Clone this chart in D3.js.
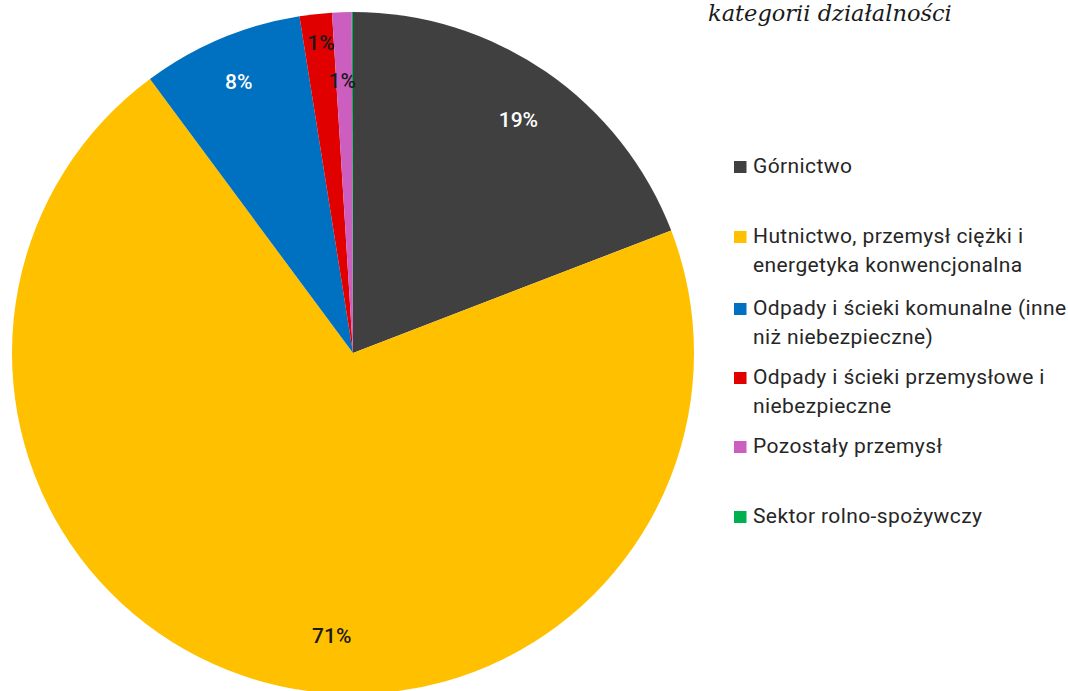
<!DOCTYPE html>
<html><head><meta charset="utf-8">
<script src="https://cdn.jsdelivr.net/npm/d3@7"></script>
<style>
html,body{margin:0;padding:0;background:#fff;}
svg{display:block;}
</style></head>
<body>
<svg id="chart" width="1068" height="691"></svg>
<script>
// Data (percent shares)
const categories = [
  "Górnictwo",
  "Hutnictwo, przemysł ciężki i energetyka konwencjonalna",
  "Odpady i ścieki komunalne (inne niż niebezpieczne)",
  "Odpady i ścieki przemysłowe i niebezpieczne",
  "Pozostały przemysł",
  "Sektor rolno-spożywczy"
];
const values = [19.15, 70.7, 7.64, 1.53, 0.92, 0.06];
const valueLabels = ["19%", "71%", "8%", "1%", "1%", ""];
const legendLines = [
  ["Górnictwo"],
  ["Hutnictwo, przemysł ciężki i", "energetyka konwencjonalna"],
  ["Odpady i ścieki komunalne (inne", "niż niebezpieczne)"],
  ["Odpady i ścieki przemysłowe i", "niebezpieczne"],
  ["Pozostały przemysł"],
  ["Sektor rolno-spożywczy"]
];
const titleText = "kategorii działalności";

// Styles / layout
const colors = ["#404040", "#FFC000", "#0070C0", "#E00000", "#CC5EC0", "#00B050"];
const labelColors = ["#ffffff", "#1a1a1a", "#ffffff", "#1a1a1a", "#1a1a1a", "#1a1a1a"];
// label placement: radius fraction, angle offset (deg) from slice middle
const labelLayout = [[0.84, 0.8], [0.83, -11.9], [0.865, 0], [0.915, 0.4], [0.80, -0.4], [0.8, 0]];
const legendBaselines = [173, 243, 315, 384, 453, 523];

const svg = d3.select("#chart");
const cx = 353, cy = 353, R = 341;

const pie = d3.pie().sort(null).value(d => d);
const arcs = pie(values);
const arc = d3.arc().innerRadius(0).outerRadius(R);

const g = svg.append("g").attr("transform", `translate(${cx},${cy})`);
g.selectAll("path.slice").data(arcs).enter().append("path")
  .attr("class", "slice")
  .attr("d", arc)
  .attr("fill", (d, i) => colors[i]);

const font = "Roboto, 'DejaVu Sans', sans-serif";
g.selectAll("text.lbl").data(arcs).enter().append("text")
  .attr("class", "lbl")
  .attr("transform", (d, i) => {
    const a = (d.startAngle + d.endAngle) / 2 + labelLayout[i][1] * Math.PI / 180;
    const r = R * labelLayout[i][0];
    return `translate(${r * Math.sin(a)},${-r * Math.cos(a)})`;
  })
  .attr("text-anchor", "middle")
  .attr("dy", "0.36em")
  .attr("font-family", font)
  .attr("font-weight", 500)
  .attr("font-size", 21)
  .attr("fill", (d, i) => labelColors[i])
  .text((d, i) => valueLabels[i]);

// Title fragment
svg.append("text")
  .attr("x", 708).attr("y", 21)
  .attr("font-family", "'DejaVu Serif', Georgia, serif")
  .attr("font-style", "italic")
  .attr("font-size", 22.5)
  .attr("fill", "#1a1a1a")
  .text(titleText);

// Legend
const leg = svg.append("g");
const items = leg.selectAll("g.item").data(categories).enter().append("g").attr("class", "item");
items.append("rect")
  .attr("x", 734).attr("y", (d, i) => legendBaselines[i] - 12)
  .attr("width", 12.5).attr("height", 12)
  .attr("fill", (d, i) => colors[i]);
items.each(function(d, i) {
  const t = d3.select(this).append("text")
    .attr("font-family", font)
    .attr("font-size", 21)
    .attr("letter-spacing", 0.4)
    .attr("fill", "#262626");
  legendLines[i].forEach((line, j) => {
    t.append("tspan").attr("x", 753).attr("y", legendBaselines[i] + j * 29).text(line);
  });
});
</script>
</body></html>
